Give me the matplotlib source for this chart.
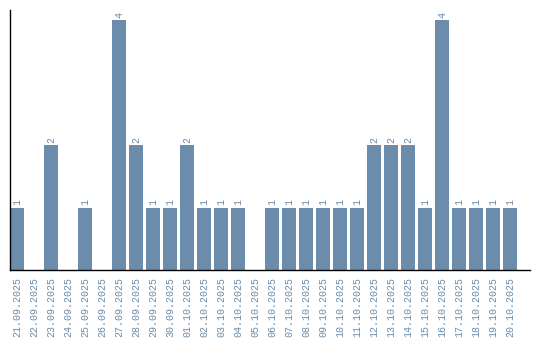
import matplotlib
matplotlib.use("Agg")
import matplotlib.pyplot as plt

dates = ["21.09.2025","22.09.2025","23.09.2025","24.09.2025","25.09.2025","26.09.2025",
         "27.09.2025","28.09.2025","29.09.2025","30.09.2025","01.10.2025","02.10.2025",
         "03.10.2025","04.10.2025","05.10.2025","06.10.2025","07.10.2025","08.10.2025",
         "09.10.2025","10.10.2025","11.10.2025","12.10.2025","13.10.2025","14.10.2025",
         "15.10.2025","16.10.2025","17.10.2025","18.10.2025","19.10.2025","20.10.2025"]
counts = [1,0,2,0,1,0,4,2,1,1,2,1,1,1,0,1,1,1,1,1,1,2,2,2,1,4,1,1,1,1]

color = "#6b8caa"
plt.rcParams['font.family'] = ['Liberation Mono', 'DejaVu Sans Mono']

fig = plt.figure(figsize=(5.4, 3.4), dpi=100)
ax = fig.add_axes([10/540, 70/340, 520/540, 260/340])
x = list(range(len(dates)))
ax.bar(x, counts, width=0.82, color=color)
for xi, c in zip(x, counts):
    if c > 0:
        ax.text(xi, c + 0.04, str(c), rotation=90, ha='center', va='bottom',
                fontsize=7.2, color=color)
ax.set_xlim(-0.41, 30.18)
ax.set_ylim(0, 4.16)
ax.set_xticks(x)
ax.set_xticklabels(dates, rotation=90, fontsize=7.2, color=color)
ax.tick_params(axis='x', length=0, pad=5)
ax.set_yticks([])
ax.spines['top'].set_visible(False)
ax.spines['right'].set_visible(False)
ax.spines['left'].set_linewidth(1.0)
ax.spines['bottom'].set_linewidth(1.0)
fig.savefig("out.png", dpi=100)
